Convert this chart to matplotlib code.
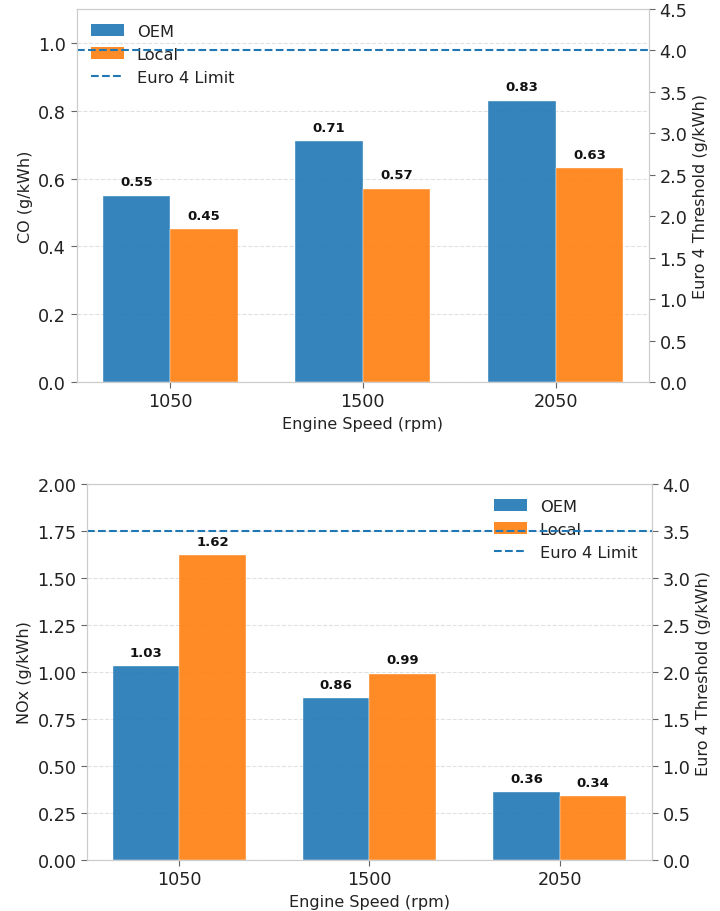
import matplotlib
matplotlib.use("Agg")
import matplotlib.pyplot as plt
from matplotlib.lines import Line2D
from matplotlib.patches import Patch
from matplotlib.ticker import FormatStrFormatter
import numpy as np

plt.rcParams["font.family"] = ["DejaVu Sans"]

# Engine-out emissions at three speeds, OEM vs locally built engine
SPEEDS = ["1050", "1500", "2050"]
CO_OEM = [0.55, 0.71, 0.83]
CO_LOCAL = [0.45, 0.57, 0.63]
NOX_OEM = [1.03, 0.86, 0.36]
NOX_LOCAL = [1.62, 0.99, 0.34]
CO_LIMIT = 4.0
NOX_LIMIT = 3.5

BLUE = "#1f77b4"
ORANGE = "#ff7f0e"
SPINE = "#cccccc"
WIDTH = 0.35


def style_axis(ax):
    for s in ax.spines.values():
        s.set_color(SPINE)
    ax.tick_params(colors="#222222", labelsize=12.7, length=4, width=0.8)
    ax.tick_params(axis="both", color="#666666")


def panel(ax, oem, local, ylabel, ymax, yticks, limit, rmax, rticks, legend_loc):
    x = np.arange(len(SPEEDS))
    b1 = ax.bar(x - WIDTH / 2, oem, WIDTH, color=BLUE, alpha=0.9,
                edgecolor="white", linewidth=0.3, label="OEM")
    b2 = ax.bar(x + WIDTH / 2, local, WIDTH, color=ORANGE, alpha=0.9,
                edgecolor="white", linewidth=0.3, label="Local")
    off = 0.02 * ymax
    for bars, vals in ((b1, oem), (b2, local)):
        for b, v in zip(bars, vals):
            ax.text(b.get_x() + b.get_width() / 2, v + off, f"{v:.2f}",
                    ha="center", va="bottom", fontsize=9.5, fontweight="bold",
                    color="#111111")
    ax.set_xticks(x)
    ax.set_xticklabels(SPEEDS)
    ax.set_ylim(0, ymax)
    ax.set_yticks(yticks)
    ax.set_xlabel("Engine Speed (rpm)", fontsize=11.5, color="#222222")
    ax.set_ylabel(ylabel, fontsize=11.5, color="#222222")
    ax.grid(axis="y", linestyle="--", color="#dddddd", linewidth=0.8, alpha=0.9)
    ax.set_axisbelow(True)
    style_axis(ax)

    ax2 = ax.twinx()
    ax2.axhline(limit, color=BLUE, linestyle="--", linewidth=1.5)
    ax2.set_ylim(0, rmax)
    ax2.set_yticks(rticks)
    ax2.set_ylabel("Euro 4 Threshold (g/kWh)", fontsize=11.5, color="#222222")
    style_axis(ax2)

    handles = [Patch(facecolor=BLUE, alpha=0.9, label="OEM"),
               Patch(facecolor=ORANGE, alpha=0.9, label="Local"),
               Line2D([0], [0], color=BLUE, linestyle="--", linewidth=1.5,
                      label="Euro 4 Limit")]
    leg = ax.legend(handles=handles, loc=legend_loc, frameon=False,
                    fontsize=11.7)
    for t in leg.get_texts():
        t.set_color("#222222")
    return ax2


fig = plt.figure(figsize=(7.2, 9.12), dpi=100)
ax_top = fig.add_axes([0.1063, 0.580, 0.7952, 0.409])
ax_bot = fig.add_axes([0.1208, 0.0559, 0.7847, 0.4123])

panel(ax_top, CO_OEM, CO_LOCAL, "CO (g/kWh)", 1.1,
      np.arange(0, 1.01, 0.2), CO_LIMIT, 4.5, np.arange(0, 4.51, 0.5),
      "upper left")
panel(ax_bot, NOX_OEM, NOX_LOCAL, "NOx (g/kWh)", 2.0,
      np.arange(0, 2.01, 0.25), NOX_LIMIT, 4.0, np.arange(0, 4.01, 0.5),
      "upper right")
ax_bot.yaxis.set_major_formatter(FormatStrFormatter("%.2f"))
ax_top.yaxis.set_major_formatter(FormatStrFormatter("%.1f"))

fig.savefig("out.png", dpi=100)
